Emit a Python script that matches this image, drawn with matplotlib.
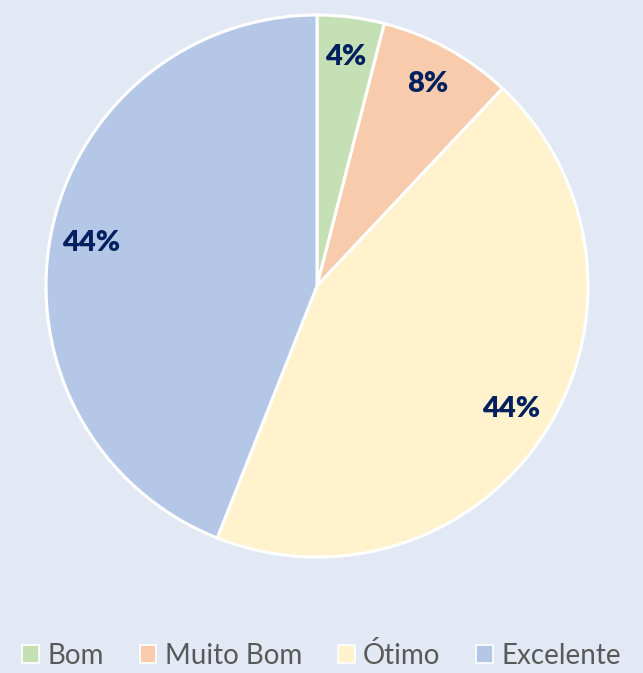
import matplotlib
matplotlib.use("Agg")
import matplotlib.pyplot as plt
from matplotlib.patches import Patch

categories = ["Bom", "Muito Bom", "Ótimo", "Excelente"]
values = [4, 8, 44, 44]
colors = ["#C5E0B4", "#F8CBAD", "#FFF2CC", "#B4C7E7"]
bg = "#E3E9F4"

plt.rcParams['font.family'] = ['Lato', 'DejaVu Sans']

fig = plt.figure(figsize=(6.43, 6.73), dpi=100, facecolor=bg)
ax = fig.add_axes([46/643, 116/673, 542/643, 542/673])
ax.set_facecolor(bg)

wedges, texts, autotexts = ax.pie(
    values, colors=colors, startangle=90, counterclock=False,
    autopct=lambda p: f"{p:.0f}%", pctdistance=0.85,
    wedgeprops=dict(edgecolor="white", linewidth=2.2),
    textprops=dict(color="#002060", fontsize=21, fontweight="heavy"),
)
ax.set_xlim(-1, 1)
ax.set_ylim(-1, 1)
ax.set_aspect("auto")

handles = [Patch(facecolor=c, edgecolor="white", linewidth=1.2) for c in colors]
fig.legend(handles, categories, loc="center", bbox_to_anchor=(0.5, 18/673),
           ncol=4, frameon=False, fontsize=20, labelcolor="#595959",
           handlelength=0.6, handleheight=0.6, handletextpad=0.3,
           columnspacing=1.3)

fig.savefig("out.png", dpi=100, facecolor=bg)
